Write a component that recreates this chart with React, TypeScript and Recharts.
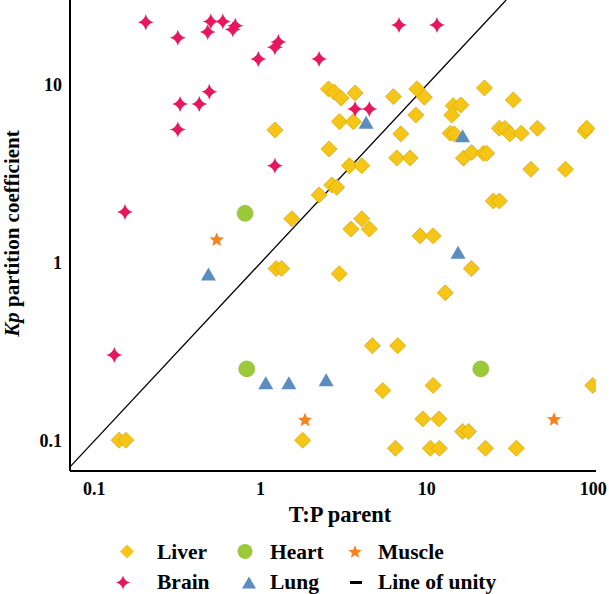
import { ScatterChart, Scatter, XAxis, YAxis, ReferenceLine } from "recharts";

// axis setup
const xTicks = [0.1, 1, 10, 100];
const yTicks = [0.1, 1, 10];
const xDomain = [0.0715, 104];
const yDomain = [0.0678, 30];
const unityEnds = [0.0715, 30];

const legendRow1 = ["Liver", "Heart", "Muscle"];
const legendRow2 = ["Brain", "Lung", "Line of unity"];

// [T:P parent, Kp]
const liver = [
  [1.22, 5.59], [1.54, 1.77], [1.24, 0.93], [1.34, 0.93], [0.141, 0.101], [0.155, 0.101], [1.79, 0.101],
  [2.56, 9.5], [2.77, 9.13], [3.05, 8.45], [3.7, 9.02], [6.29, 8.6], [8.7, 9.5], [9.66, 8.53],
  [2.98, 6.22], [3.61, 6.22], [8.58, 6.78], [14.4, 7.65], [16.0, 7.72], [14.1, 6.77],
  [6.97, 5.31], [13.8, 5.35], [14.6, 5.31], [2.58, 4.37], [6.59, 3.89], [7.93, 3.89],
  [3.42, 3.52], [4.06, 3.52], [2.68, 2.74], [2.87, 2.66], [2.25, 2.41],
  [22.2, 9.62], [33.1, 8.24], [27.3, 5.71], [29.5, 5.7], [31.6, 5.31], [36.9, 5.35], [46.2, 5.71],
  [89.4, 5.5], [91.5, 5.71], [16.6, 3.88], [18.6, 4.17], [21.9, 4.13], [22.9, 4.13], [42.2, 3.36],
  [68.1, 3.36], [25.1, 2.23], [27.3, 2.23], [3.49, 1.55], [4.06, 1.77], [4.51, 1.55], [9.1, 1.42],
  [10.9, 1.42], [2.97, 0.87], [18.5, 0.93], [12.9, 0.68], [4.7, 0.343], [6.68, 0.343], [5.43, 0.192],
  [10.9, 0.205], [99.4, 0.205], [9.45, 0.133], [11.8, 0.133], [16.4, 0.113], [17.8, 0.113],
  [6.47, 0.091], [10.5, 0.091], [11.9, 0.091], [22.5, 0.091], [34.5, 0.091],
];

const brain = [
  [0.204, 22.5], [0.318, 18.4], [0.502, 22.7], [0.593, 22.7], [0.481, 19.8], [0.705, 21.5],
  [0.681, 20.5], [0.97, 14.0], [1.28, 17.4], [1.22, 16.3], [0.492, 9.17], [0.328, 7.82],
  [0.428, 7.82], [0.318, 5.61], [1.22, 3.52], [0.153, 1.93], [0.132, 0.304], [6.8, 21.7],
  [11.5, 21.7], [2.25, 14.0], [3.7, 7.33], [4.51, 7.33],
];

const heart = [[0.807, 1.9], [0.826, 0.254], [21.1, 0.254]];

const lung = [
  [4.31, 6.17], [16.4, 5.19], [15.4, 1.15], [0.486, 0.867], [1.075, 0.212], [1.48, 0.212], [2.48, 0.221],
];

const muscle = [[0.545, 1.36], [1.85, 0.132], [58.2, 0.133]];

const serif = "'Times New Roman', 'Liberation Serif', serif";
const YELLOW = "#F5C518";
const PINK = "#E8175D";
const GREEN = "#9BC93A";
const BLUE = "#5B8DC0";
const ORANGE = "#F7821E";

const toPoints = (pairs: number[][]) => pairs.map(([x, y]) => ({ x, y }));

const sparkle = (cx: number, cy: number, r: number) => {
  const c = r * 0.2;
  return `M${cx},${cy - r} Q${cx + c},${cy - c} ${cx + r},${cy} Q${cx + c},${cy + c} ${cx},${cy + r} Q${cx - c},${cy + c} ${cx - r},${cy} Q${cx - c},${cy - c} ${cx},${cy - r} Z`;
};

const star5 = (cx: number, cy: number, r: number) => {
  const pts: string[] = [];
  for (let i = 0; i < 10; i++) {
    const rad = i % 2 === 0 ? r : r * 0.45;
    const a = -Math.PI / 2 + (i * Math.PI) / 5;
    pts.push(`${cx + rad * Math.cos(a)},${cy + rad * Math.sin(a) + r * 0.1}`);
  }
  return pts.join(" ");
};

const Diamond = ({ cx, cy }: any) => (
  <polygon
    points={`${cx},${cy - 8} ${cx + 8},${cy} ${cx},${cy + 8} ${cx - 8},${cy}`}
    fill={YELLOW}
    stroke="#DBA900"
    strokeWidth={0.8}
  />
);
const Sparkle = ({ cx, cy }: any) => <path d={sparkle(cx, cy, 8)} fill={PINK} />;
const Dot = ({ cx, cy }: any) => <circle cx={cx} cy={cy} r={8} fill={GREEN} stroke="#8BB52E" strokeWidth={0.6} />;
const Tri = ({ cx, cy }: any) => (
  <polygon points={`${cx},${cy - 6.5} ${cx + 7.5},${cy + 6.5} ${cx - 7.5},${cy + 6.5}`} fill={BLUE} />
);
const Star = ({ cx, cy }: any) => <polygon points={star5(cx, cy, 7.5)} fill={ORANGE} />;

const YLabel = () => (
  <text
    x={19}
    y={233.5}
    transform="rotate(-90, 19, 233.5)"
    textAnchor="middle"
    fontFamily={serif}
    fontWeight="bold"
    fontSize={21}
    fill="#000"
  >
    <tspan fontStyle="italic">Kp</tspan>
    <tspan> partition coefficient</tspan>
  </text>
);

const tickStyle = { fill: "#000", fontSize: 18, fontWeight: "bold", fontFamily: serif };

function Legend() {
  const icons1 = [
    (x: number, y: number) => (
      <polygon points={`${x},${y - 7} ${x + 7},${y} ${x},${y + 7} ${x - 7},${y}`} fill={YELLOW} />
    ),
    (x: number, y: number) => <circle cx={x} cy={y} r={7.5} fill={GREEN} />,
    (x: number, y: number) => <polygon points={star5(x, y, 7)} fill={ORANGE} />,
  ];
  const icons2 = [
    (x: number, y: number) => <path d={sparkle(x, y, 7)} fill={PINK} />,
    (x: number, y: number) => (
      <polygon points={`${x},${y - 6} ${x + 7},${y + 6} ${x - 7},${y + 6}`} fill={BLUE} />
    ),
    (x: number, y: number) => <rect x={x - 6} y={y - 1.5} width={12} height={3} fill="#000" />,
  ];
  const iconX1 = [127, 245, 355];
  const iconX2 = [123, 249, 356];
  const textX = [157, 270, 378];
  return (
    <svg width={609} height={64} style={{ position: "absolute", left: 0, top: 530 }}>
      {legendRow1.map((name, i) => (
        <g key={name}>
          {icons1[i](iconX1[i], 21.5)}
          <text x={textX[i]} y={28.5} fontFamily={serif} fontWeight="bold" fontSize={21.5} fill="#000">
            {name}
          </text>
        </g>
      ))}
      {legendRow2.map((name, i) => (
        <g key={name}>
          {icons2[i](iconX2[i], 52.5)}
          <text x={textX[i]} y={59} fontFamily={serif} fontWeight="bold" fontSize={21.5} fill="#000">
            {name}
          </text>
        </g>
      ))}
    </svg>
  );
}

export default function App() {
  return (
    <div style={{ position: "absolute", left: 0, top: 0, width: 609, height: 594, background: "#fff" }}>
      <ScatterChart width={609} height={594} margin={{ top: 0, right: 13, bottom: 93, left: 0 }}>
        <XAxis
          type="number"
          dataKey="x"
          scale="log"
          domain={xDomain}
          allowDataOverflow
          ticks={xTicks}
          tickFormatter={(v) => String(v)}
          axisLine={{ stroke: "#000", strokeWidth: 2 }}
          tickLine={false}
          tickSize={0}
          tickMargin={11}
          tick={tickStyle}
          height={30}
          label={() => (
            <text
              x={340}
              y={522}
              textAnchor="middle"
              fontFamily={serif}
              fontWeight="bold"
              fontSize={22.5}
              fill="#000"
            >
              T:P parent
            </text>
          )}
        />
        <YAxis
          type="number"
          dataKey="y"
          scale="log"
          domain={yDomain}
          allowDataOverflow
          ticks={yTicks}
          tickFormatter={(v) => String(v)}
          axisLine={{ stroke: "#000", strokeWidth: 2 }}
          tickLine={false}
          tickSize={0}
          tickMargin={8}
          tick={tickStyle}
          width={70}
          label={() => <YLabel />}
        />
        <ReferenceLine
          segment={[
            { x: unityEnds[0], y: unityEnds[0] },
            { x: unityEnds[1], y: unityEnds[1] },
          ]}
          stroke="#000"
          strokeWidth={1.3}
          ifOverflow="visible"
        />
        <Scatter name="Liver" data={toPoints(liver)} shape={Diamond} isAnimationActive={false} />
        <Scatter name="Heart" data={toPoints(heart)} shape={Dot} isAnimationActive={false} />
        <Scatter name="Muscle" data={toPoints(muscle)} shape={Star} isAnimationActive={false} />
        <Scatter name="Brain" data={toPoints(brain)} shape={Sparkle} isAnimationActive={false} />
        <Scatter name="Lung" data={toPoints(lung)} shape={Tri} isAnimationActive={false} />
      </ScatterChart>
      <Legend />
    </div>
  );
}
